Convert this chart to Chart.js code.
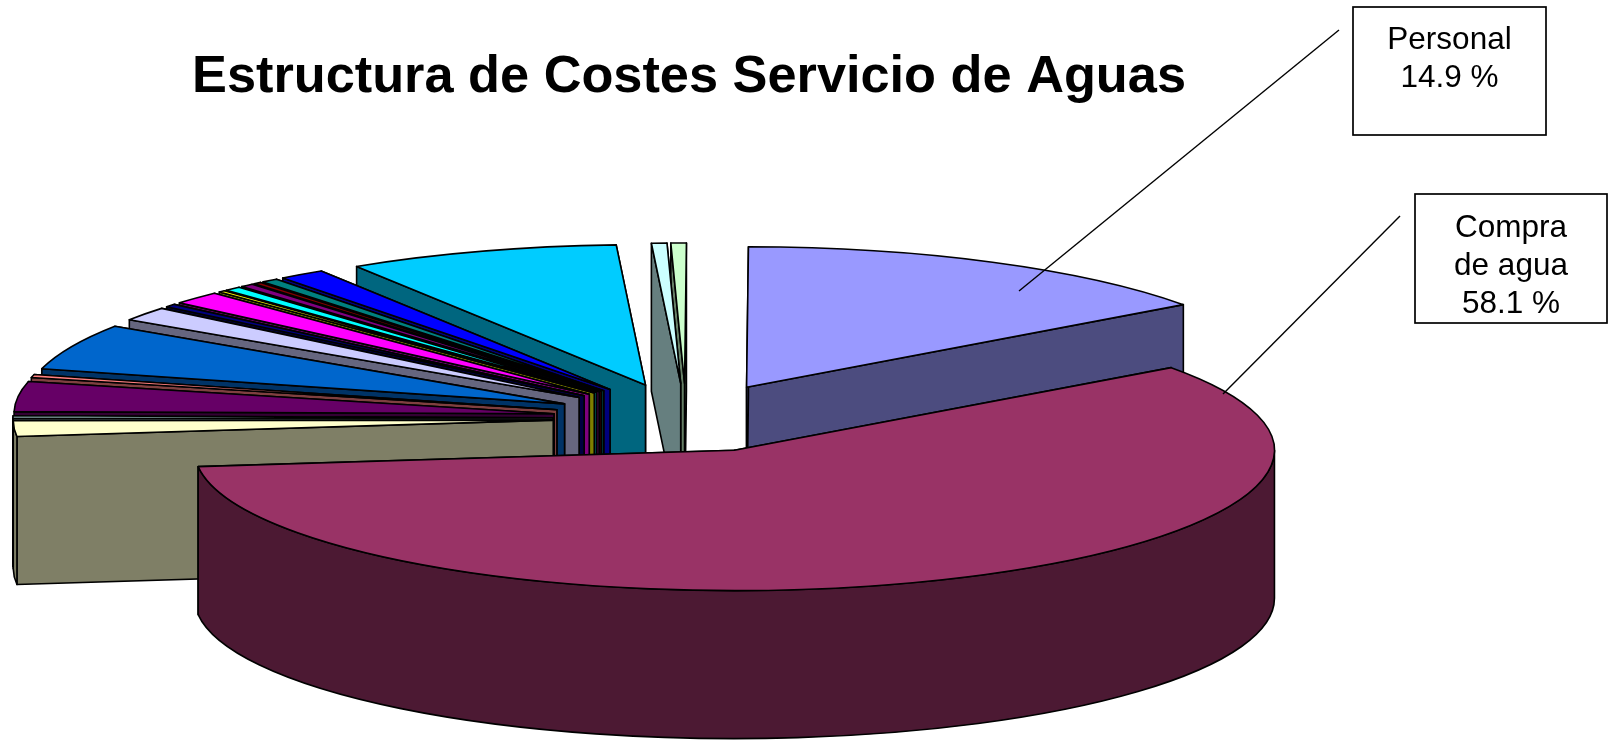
<!DOCTYPE html>
<html>
<head>
<meta charset="utf-8">
<title>Estructura de Costes Servicio de Aguas</title>
<script src="https://cdn.jsdelivr.net/npm/chart.js@4/dist/chart.umd.js"></script>
<style>
  html, body { margin: 0; padding: 0; background: #fff; overflow: hidden; }
  canvas { display: block; }
</style>
</head>
<body>
<canvas id="chart" width="1609" height="741"></canvas>
<script>
// ─── DATA ──────────────────────────────────────────────────────────────────
const chartTitle = 'Estructura de Costes Servicio de Aguas';
const categories = ['Personal', 'Compra de agua', 'c3', 'c4', 'c5', 'c6', 'c7', 'c8', 'c9', 'c10',
                    'c11', 'c12', 'c13', 'c14', 'c15', 'c16', 'c17', 'c18', 'c19'];
const values     = [14.94, 58.14, 1.8, 0.3, 3.45, 0.35, 5.3, 1.6, 0.35, 1.5,
                    0.2, 0.5, 0.4, 0.25, 0.5, 1.38, 8.12, 0.46, 0.46];
const colors     = ['#9999FF', '#993366', '#FFFFCC', '#CCFFFF', '#660066', '#FF8080', '#0066CC', '#CCCCFF', '#000080', '#FF00FF',
                    '#FFFF00', '#00FFFF', '#800080', '#800000', '#008080', '#0000FF', '#00CCFF', '#CCFFFF', '#CCFFCC'];
const boxLabels  = [['Personal', '14.9 %'], ['Compra', 'de agua', '58.1 %']];

// ─── GEOMETRIA 3D ──────────────────────────────────────────────────────────
const CX = 686, CY = 418;   // centro da pizza antes de explodir
const RADIUS  = 540;
const TILT    = 0.26;       // achatamento vertical
const EXPLODE = 133;
const DEPTH   = 148;
const LINE    = 1.6;
const ROTATION = 0.2;

const boxes = [
  { x: 1353, y: 7,   w: 193, h: 128, baseY: 49,  gap: 38, lead: [1339, 30, 1019, 291] },
  { x: 1415, y: 194, w: 192, h: 129, baseY: 237, gap: 38, lead: [1400, 216, 1223, 394] },
];

function darken(hex) {
  const n = parseInt(hex.slice(1), 16);
  const c = [n >> 16, (n >> 8) & 255, n & 255].map(v => Math.floor(v / 2));
  return `rgb(${c[0]},${c[1]},${c[2]})`;
}

// ─── CONTROLLER: pizza explodida com extrusão ──────────────────────────────
class Pie3DController extends Chart.PieController {
  draw() {
    const ctx  = this.chart.ctx;
    const arcs = this.getMeta().data.map((arc, i) => ({ arc, i, mid: (arc.startAngle + arc.endAngle) / 2 }));
    arcs.sort((a, b) => Math.sin(a.mid) - Math.sin(b.mid));

    for (const { arc, i, mid } of arcs) {
      const ax = CX + Math.cos(mid) * EXPLODE;
      const ay = CY + Math.sin(mid) * EXPLODE * TILT;
      const a0 = arc.startAngle, a1 = arc.endAngle;
      const r  = arc.outerRadius;
      const side = darken(colors[i]);

      ctx.save();
      ctx.lineWidth = LINE;
      ctx.lineJoin = 'round';
      ctx.strokeStyle = '#000';
      ctx.fillStyle = side;

      // faces radiais
      for (const a of [a1, a0]) {
        const ex = ax + Math.cos(a) * r, ey = ay + Math.sin(a) * r * TILT;
        ctx.beginPath();
        ctx.moveTo(ax, ay);
        ctx.lineTo(ex, ey);
        ctx.lineTo(ex, ey + DEPTH);
        ctx.lineTo(ax, ay + DEPTH);
        ctx.closePath();
        ctx.fill();
        ctx.stroke();
      }

      // borda externa (só a metade da frente aparece)
      for (const k of [0, 1, 2]) {
        const from = Math.max(a0, k * 2 * Math.PI - 2 * Math.PI);
        const to   = Math.min(a1, k * 2 * Math.PI - Math.PI);
        if (to <= from) continue;
        ctx.beginPath();
        ctx.save();
        ctx.translate(ax, ay);
        ctx.scale(1, TILT);
        ctx.arc(0, 0, r, from, to, false);
        ctx.restore();
        ctx.save();
        ctx.translate(ax, ay + DEPTH);
        ctx.scale(1, TILT);
        ctx.arc(0, 0, r, to, from, true);
        ctx.restore();
        ctx.closePath();
        ctx.fill();
        ctx.stroke();
      }

      // tampo: o próprio ArcElement, achatado
      ctx.save();
      ctx.translate(ax, ay);
      ctx.scale(1, TILT);
      ctx.translate(-arc.x, -arc.y);
      arc.draw(ctx);
      ctx.restore();

      // contorno do tampo com traço uniforme
      ctx.beginPath();
      ctx.save();
      ctx.translate(ax, ay);
      ctx.scale(1, TILT);
      ctx.moveTo(0, 0);
      ctx.arc(0, 0, r, a0, a1, false);
      ctx.closePath();
      ctx.restore();
      ctx.stroke();
      ctx.restore();
    }
  }
}
Pie3DController.id = 'pie3d';
Chart.register(Pie3DController);

// ─── CAIXAS DE RÓTULO ──────────────────────────────────────────────────────
const labelBoxes = {
  id: 'labelBoxes',
  afterDraw(chart) {
    const ctx = chart.ctx;
    ctx.save();
    ctx.strokeStyle = '#000';
    ctx.fillStyle = '#000';
    ctx.font = '31.5px "Liberation Sans", Arial, sans-serif';
    ctx.textAlign = 'center';
    ctx.textBaseline = 'alphabetic';
    boxes.forEach((b, n) => {
      ctx.lineWidth = 1.7;
      ctx.strokeRect(b.x, b.y, b.w, b.h);
      ctx.lineWidth = 1.4;
      ctx.beginPath();
      ctx.moveTo(b.lead[0], b.lead[1]);
      ctx.lineTo(b.lead[2], b.lead[3]);
      ctx.stroke();
      boxLabels[n].forEach((txt, l) => ctx.fillText(txt, b.x + b.w / 2, b.baseY + l * b.gap));
    });
    ctx.restore();
  },
};

new Chart(document.getElementById('chart'), {
  type: 'pie3d',
  data: {
    labels: categories,
    datasets: [{
      data: values,
      backgroundColor: colors,
      borderWidth: 0,
      radius: RADIUS,
      rotation: ROTATION,
    }],
  },
  plugins: [labelBoxes],
  options: {
    responsive: false,
    animation: false,
    layout: { padding: { left: 192 } },
    plugins: {
      legend: { display: false },
      tooltip: { enabled: false },
      title: {
        display: true,
        text: chartTitle,
        align: 'start',
        color: '#000',
        font: { family: '"Liberation Sans", Arial, sans-serif', size: 52.3, weight: 'bold' },
        padding: { top: 46, bottom: 0 },
      },
    },
  },
});
</script>
</body>
</html>
